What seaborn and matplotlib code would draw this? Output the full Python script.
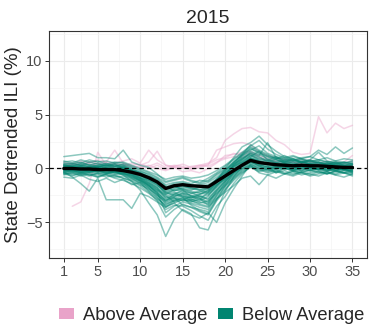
import numpy as np
import pandas as pd
import seaborn as sns
import matplotlib.pyplot as plt
from matplotlib.patches import Patch

nan = np.nan
weeks = list(range(1, 36))
year = '2015'

# states above the average (pink)
above = {
    'A1': [nan, -3.5, -3.1, -1.4, 1.5, 0.3, 0.4, 0.2, 0.5, 0.3, 0.6, 1.6, 0.3, 0.1, -0.3, -0.2, -0.4, 0.0, 0.5, 1.2, 1.3, 1.5, 1.6, 1.1, 0.8, 0.6, 0.5, 0.6, 0.4, 0.5, 0.4, 0.3, 0.3, 0.2, 0.3],
    'A2': [0.4, 0.3, 0.5, 0.4, 0.2, 0.5, 0.3, 0.4, 0.2, 0.1, 0.3, 0.0, -0.2, 0.1, 0.0, 0.2, 0.3, 0.5, 1.0, 2.6, 3.2, 3.7, 3.8, 3.4, 3.3, 2.6, 2.2, 1.5, 1.3, 1.4, 4.8, 3.3, 4.2, 3.7, 4.0],
    'A3': [0.3, 0.5, 0.2, 0.6, 0.4, 0.6, 1.7, 0.5, 0.3, 0.4, 0.2, 0.5, 0.1, 0.3, 0.2, -0.1, 0.1, 0.3, 1.7, 2.0, 2.3, 2.4, 2.2, 1.5, 1.2, 1.0, 0.8, 0.7, 0.9, 0.6, 0.5, 0.7, 0.4, 0.6, 1.2],
    'A4': [0.6, 0.4, 0.7, 0.5, 0.8, 0.6, 0.5, 0.7, 0.9, 0.5, 1.7, 0.8, 0.3, 0.2, 0.4, 0.1, 0.3, 0.2, 0.6, 0.9, 1.1, 1.0, 1.3, 0.9, 0.8, 0.6, 0.7, 0.5, 0.6, 0.8, 0.5, 0.4, 0.6, 0.5, 0.7],
    'A5': [0.2, 0.4, 0.3, 0.2, 0.5, 0.3, 0.2, 0.4, 0.1, 0.2, 0.0, 0.3, -0.1, 0.2, 0.1, 0.0, 0.2, 0.4, 0.8, 1.0, 1.4, 1.2, 1.5, 1.2, 1.0, 0.7, 0.9, 0.6, 0.5, 0.7, 0.4, 0.5, 0.3, 0.4, 0.5],
}

# states below the average (teal)
below = {
    'B01': [0.3, 0.2, 0.1, 0.0, -0.2, -0.4, -0.3, -0.6, -1.2, -2.0, -3.2, -4.3, -6.3, -4.7, -3.8, -4.2, -5.5, -5.7, -3.9, -2.1, -0.8, 0.2, 0.6, 0.4, 0.1, 0.3, 0.2, -0.1, 0.2, 0.0, 0.1, -0.2, 0.0, -0.1, 0.1],
    'B02': [-0.3, -0.8, -1.4, -2.1, -0.9, -2.9, -2.9, -2.9, -3.7, -2.3, -2.6, -3.1, -3.6, -3.0, -2.7, -3.4, -3.9, -4.2, -2.9, -1.6, -0.4, 0.3, 0.9, 0.5, 0.3, 0.1, 0.4, 0.2, 0.0, 0.3, 0.2, 0.1, -0.2, 0.0, -0.3],
    'B03': [1.1, 1.2, 1.3, 1.4, 1.0, 1.0, 0.9, 1.7, 0.6, 0.3, 0.1, -0.5, -1.2, -1.0, -0.8, -1.1, -1.3, -0.9, -0.4, 0.2, 0.8, 1.4, 2.0, 1.6, 1.2, 1.0, 0.8, 1.1, 0.9, 0.7, 0.8, 0.6, 0.5, 0.6, 0.4],
    'B04': [0.5, 0.4, 0.6, 0.3, 0.5, 0.2, 0.4, 0.1, -0.2, -0.6, -0.9, -1.3, -2.1, -1.8, -1.6, -1.9, -2.0, -1.7, -1.0, -0.3, 0.5, 1.2, 1.9, 1.4, 1.1, 0.9, 1.2, 0.8, 1.0, 1.1, 1.7, 1.3, 2.0, 1.4, 1.9],
    'B05': [0.2, 0.1, 0.0, 0.2, 0.1, -0.1, 0.0, -0.2, -0.4, -0.8, -1.3, -1.8, -2.6, -2.3, -2.2, -2.5, -2.4, -2.0, -1.2, 0.0, 1.0, 2.0, 2.4, 3.0, 2.2, 1.6, 1.1, 0.9, 0.6, 0.8, 0.5, 0.4, 0.6, 0.3, 0.4],
    'B06': [-0.4, -0.5, -0.3, -0.6, -0.5, -0.8, -0.6, -0.9, -1.1, -1.5, -1.9, -2.4, -3.3, -3.0, -2.8, -3.2, -3.4, -3.6, -2.8, -2.2, -1.6, -0.9, -0.7, -1.5, -0.6, -0.9, -0.5, -0.7, -0.4, -0.6, -0.3, -0.5, -0.2, -0.4, -0.6],
    'B07': [-0.2, -0.1, -0.3, -0.2, -0.4, -0.3, -0.5, -0.4, -0.7, -1.0, -1.6, -2.2, -4.1, -3.5, -3.1, -3.3, -3.6, -3.8, -2.5, -1.3, -0.3, 0.4, 1.0, 0.7, 0.5, 0.6, 0.3, 0.4, 0.2, 0.5, 0.3, 0.2, 0.1, 0.3, 0.0],
    'B08': [0.1, 0.3, 0.2, 0.4, 0.2, 0.3, 0.1, 0.2, -0.1, -0.3, -0.5, -0.9, -1.5, -1.3, -1.2, -1.4, -1.1, -1.2, -0.6, -0.1, 0.4, 0.9, 1.3, 0.8, 0.7, 0.9, 0.5, 0.7, 0.6, 0.4, 0.6, 0.3, 0.4, 0.5, 0.2],
    'B09': [-0.6, -0.4, -0.7, -0.5, -0.8, -0.6, -0.9, -1.1, -1.4, -1.8, -2.3, -2.9, -3.8, -3.4, -3.5, -3.9, -4.4, -4.8, -3.5, -2.6, -1.4, -0.5, 0.2, -0.2, 0.0, -0.3, 0.1, -0.2, -0.4, -0.1, -0.3, -0.5, -0.2, -0.4, -0.3],
    'B10': [0.0, -0.2, 0.1, -0.1, -0.3, -0.2, -0.4, -0.5, -0.9, -1.4, -2.0, -2.7, -3.5, -3.2, -3.9, -4.3, -4.6, -4.1, -5.0, -3.2, -1.9, -0.7, 0.4, 0.1, -0.1, 0.2, 0.0, -0.2, 0.1, -0.1, 0.0, -0.2, 0.1, -0.1, -0.2],
    'B11': [0.6, 0.7, 0.5, 0.8, 0.6, 0.7, 0.5, 0.6, 0.3, 0.0, -0.3, -0.6, -1.0, -0.8, -0.7, -0.9, -0.8, -0.6, -0.2, 0.3, 0.9, 1.5, 2.1, 2.6, 1.8, 1.3, 1.0, 1.2, 0.9, 1.1, 0.8, 1.0, 0.7, 0.9, 0.8],
    'B12': [-0.1, 0.0, -0.2, -0.1, 0.0, -0.2, -0.1, -0.3, -0.5, -0.9, -1.1, -1.6, -2.0, -1.7, -1.9, -2.1, -2.3, -2.4, -1.7, -0.8, 0.0, 0.7, 1.1, 1.6, 0.8, 0.5, 0.7, 0.4, 0.6, 0.3, 0.5, 0.2, 0.4, 0.1, 0.3],
    'B13': [-0.8, -0.9, -0.6, -1.0, -1.2, -0.9, -1.3, -1.0, -1.5, -1.3, -1.8, -2.5, -3.0, -2.4, -2.0, -2.6, -2.9, -2.2, -1.5, -1.0, -0.4, 0.0, 0.3, 0.0, -0.3, -0.1, -0.4, -0.6, -0.3, -0.5, -0.7, -0.4, -0.6, -0.8, -0.5],
    'B14': [0.3, 0.2, 0.4, 0.2, 0.3, 0.5, 0.2, 0.4, 0.1, -0.2, -0.6, -1.1, -1.7, -1.4, -1.3, -1.5, -1.6, -1.5, -1.0, -0.4, 0.2, 0.8, 1.5, 1.2, 2.4, 1.0, 0.7, 0.9, 0.6, 0.8, 1.5, 0.7, 0.5, 0.6, 0.4],
    'B15': [-0.3, -0.2, -0.4, -0.3, -0.1, -0.4, -0.2, -0.5, -0.6, -1.1, -1.5, -2.0, -2.7, -2.6, -2.4, -2.8, -3.1, -3.3, -2.2, -1.4, -0.6, 0.1, 0.6, 0.3, -0.2, 0.0, 0.2, -0.1, 0.1, -0.2, 0.0, 0.1, -0.1, 0.0, -0.2],
    'B16': [0.2, 0.4, 0.3, 0.1, 0.3, 0.2, 0.4, 0.0, -0.3, -0.7, -1.0, -1.5, -2.2, -1.9, -1.7, -1.8, -2.0, -2.2, -1.3, -0.6, 0.3, 1.1, 1.6, 1.3, 0.9, 0.6, 0.8, 0.5, 0.7, 0.4, 0.2, 0.5, 0.3, 0.2, 0.4],
    'B17': [-0.5, -0.3, -0.6, -0.4, -0.7, -0.5, -0.3, -0.6, -0.9, -1.2, -1.7, -2.3, -2.9, -2.7, -3.0, -2.9, -2.6, -2.8, -2.0, -1.2, -0.5, 0.3, 0.8, 0.4, 0.2, -0.4, 0.0, 0.2, -0.2, 0.1, -0.1, -0.3, 0.0, -0.2, -0.1],
    'B18': [0.4, 0.5, 0.3, 0.6, 0.4, 0.3, 0.5, 0.3, 0.0, -0.4, -0.8, -1.2, -1.9, -1.6, -1.4, -1.6, -1.5, -1.3, -0.8, -0.2, 0.5, 1.3, 1.8, 1.5, 1.1, 0.8, 0.6, 0.9, 0.5, 0.7, 0.4, 0.6, 0.3, 0.5, 0.6],
    'B19': [-0.2, -0.4, -0.1, -0.3, -0.2, -0.5, -0.3, -0.2, -0.6, -0.9, -1.4, -1.9, -2.4, -2.2, -2.6, -2.7, -2.5, -2.9, -1.8, -1.0, -0.2, 0.5, 0.9, 0.6, 0.4, 0.3, 0.5, 0.1, 0.3, 0.0, 0.2, -0.1, 0.1, 0.2, 0.0],
    'B20': [0.1, -0.1, 0.2, 0.0, 0.1, 0.0, -0.2, 0.1, -0.2, -0.5, -0.9, -1.3, -1.8, -1.5, -1.6, -1.8, -1.9, -2.0, -1.4, -0.5, 0.2, 0.6, 1.2, 0.9, 0.7, 0.5, 0.4, 0.6, 0.2, 0.4, 0.3, 0.1, 0.2, 0.0, 0.1],
    'B21': [-0.4, -0.6, -0.5, -0.7, -0.4, -0.6, -0.8, -0.7, -1.0, -1.3, -2.1, -2.8, -3.4, -2.9, -2.7, -3.0, -3.2, -3.0, -2.3, -1.6, -0.9, -0.3, 0.2, -0.1, -0.4, -0.2, -0.5, -0.3, -0.6, -0.4, -0.2, -0.5, -0.3, -0.4, -0.7],
    'B22': [0.0, 0.1, -0.1, 0.2, 0.0, 0.1, -0.1, 0.0, -0.4, -0.6, -1.2, -1.7, -2.3, -2.0, -2.1, -2.3, -2.1, -2.3, -1.5, -0.7, 0.4, 1.0, 1.4, 1.1, 0.6, 0.8, 0.5, 0.3, 0.6, 0.4, 0.2, 0.4, 0.3, 0.1, 0.2],
    'B23': [0.7, 0.5, 0.8, 0.6, 0.7, 0.4, 0.6, 0.5, 0.2, -0.1, -0.4, -0.8, -1.3, -1.1, -0.9, -1.2, -1.4, -1.1, -0.5, 0.0, 0.6, 1.2, 1.7, 2.1, 1.4, 1.1, 0.9, 0.7, 0.9, 0.6, 0.8, 0.6, 0.7, 0.5, 0.7],
    'B24': [-0.1, -0.3, -0.2, -0.4, -0.2, -0.1, -0.3, -0.4, -0.8, -1.1, -1.6, -2.1, -3.0, -2.6, -2.3, -2.5, -2.7, -3.1, -2.0, -1.1, -0.3, 0.3, 0.7, 0.2, 0.5, 0.1, 0.3, 0.0, 0.2, 0.1, -0.1, 0.1, -0.2, 0.0, -0.4],
    'B25': [0.1, 0.2, 0.0, 0.1, -0.1, 0.0, 0.2, -0.1, -0.5, -0.9, -1.5, -2.4, -3.2, -2.8, -2.5, -2.9, -3.0, -2.6, -1.6, -0.8, 0.1, 0.6, 1.0, 0.6, 0.4, 0.2, 0.4, 0.1, 0.3, 0.2, 0.0, 0.2, 0.1, -0.1, 0.1],
    'B26': [-0.3, -0.1, -0.4, -0.2, -0.3, -0.1, -0.4, -0.3, -0.6, -1.0, -1.4, -2.0, -2.5, -3.1, -2.9, -2.6, -2.8, -3.4, -2.4, -1.5, -0.7, 0.0, 0.5, 0.2, 0.0, 0.1, -0.1, 0.0, -0.2, 0.1, -0.1, 0.0, -0.3, -0.1, -0.2],
    'B27': [0.4, 0.2, 0.5, 0.3, 0.1, 0.4, 0.2, 0.3, -0.1, -0.4, -0.7, -1.0, -1.6, -2.1, -1.8, -2.0, -1.7, -1.9, -1.1, -0.4, 0.3, 0.9, 1.4, 1.0, 0.8, 1.1, 0.6, 0.8, 0.5, 0.7, 0.6, 0.4, 0.5, 0.3, 0.5],
    'B28': [-0.2, 0.0, -0.3, -0.1, -0.2, 0.0, -0.2, -0.4, -0.7, -1.2, -1.8, -2.6, -3.6, -3.2, -2.9, -3.1, -2.8, -3.2, -2.1, -1.2, -0.4, 0.2, 0.6, 0.3, 0.1, 0.0, 0.2, -0.2, 0.0, 0.1, -0.1, -0.2, 0.0, -0.1, -0.3],
    'B29': [0.2, 0.0, 0.3, 0.1, 0.2, 0.1, 0.3, 0.0, -0.3, -0.5, -1.0, -1.4, -2.4, -2.0, -1.9, -2.2, -2.6, -2.5, -1.6, -0.9, -0.1, 0.5, 0.9, 0.7, 0.4, 0.5, 0.2, 0.4, 0.3, 0.1, 0.3, 0.2, 0.0, 0.2, 0.1],
    'B30': [-0.5, -0.7, -0.4, -0.6, -0.8, -0.5, -0.7, -0.9, -1.2, -1.6, -2.2, -3.0, -4.5, -3.8, -3.3, -3.6, -4.0, -4.3, -3.0, -2.0, -1.1, -0.4, 0.1, -0.3, -0.1, -0.4, -0.2, -0.5, -0.3, -0.2, -0.4, -0.3, -0.5, -0.2, -0.4],
    'B31': [0.0, 0.2, 0.1, -0.1, 0.1, 0.3, 0.0, 0.1, -0.2, -0.4, -0.8, -1.2, -1.9, -1.6, -2.0, -2.3, -2.2, -1.8, -1.0, -0.2, 0.6, 1.3, 2.2, 1.7, 1.3, 0.9, 1.0, 0.7, 0.8, 0.5, 0.6, 0.4, 0.5, 0.3, 0.2],
    'B32': [-0.1, -0.2, 0.0, -0.3, -0.1, -0.3, -0.2, -0.1, -0.4, -0.8, -1.3, -1.8, -2.8, -2.4, -2.6, -3.0, -3.3, -3.5, -2.6, -1.7, -0.8, -0.1, 0.4, 0.0, 0.2, -0.1, 0.1, -0.3, -0.1, -0.2, 0.0, -0.1, -0.2, -0.4, -0.1],
    'B33': [0.3, 0.1, 0.2, 0.0, 0.2, 0.1, -0.1, 0.2, -0.2, -0.6, -1.1, -1.5, -2.2, -2.5, -2.3, -2.7, -2.4, -2.1, -1.3, -0.6, 0.2, 0.8, 1.2, 0.7, 0.5, 0.3, 0.6, 0.3, 0.4, 0.2, 0.3, 0.1, 0.2, 0.3, 0.0],
    'B34': [-0.4, -0.2, -0.5, -0.3, -0.5, -0.4, -0.6, -0.5, -0.8, -1.1, -1.6, -2.2, -3.1, -2.7, -3.4, -3.6, -3.8, -4.0, -2.8, -1.9, -1.0, -0.2, 0.3, -0.4, -0.6, -0.3, -0.5, -0.2, -0.4, -0.7, -0.5, -0.3, -0.6, -0.4, -0.5],
}

# national average (black line)
mean_ili = [0.0, 0.0, -0.05, -0.05, -0.1, -0.1, -0.1, -0.2, -0.35, -0.55, -0.85, -1.25, -1.85, -1.6, -1.5, -1.6, -1.65, -1.7, -1.2, -0.7, -0.2, 0.3, 0.75, 0.55, 0.45, 0.35, 0.3, 0.25, 0.3, 0.25, 0.25, 0.2, 0.15, 0.1, 0.1]

pink = '#E9A3C9'
teal = '#018571'

rows = []
for grp, d in [('Above Average', above), ('Below Average', below)]:
    for st, vals in d.items():
        for w, v in zip(weeks, vals):
            rows.append((st, grp, w, v))
df = pd.DataFrame(rows, columns=['state', 'group', 'week', 'ili'])
df_mean = pd.DataFrame({'week': weeks, 'ili': mean_ili})

sns.set_style('white')
plt.rcParams['font.family'] = ['Liberation Sans', 'DejaVu Sans']

fig = plt.figure(figsize=(3.74, 3.36), dpi=100)
ax = fig.add_axes([0.132, 0.232, 0.849, 0.676])

sns.lineplot(data=df, x='week', y='ili', hue='group', units='state', estimator=None,
             palette={'Above Average': pink, 'Below Average': teal},
             alpha=0.45, lw=1.1, legend=False, ax=ax)
ax.axhline(0, color='black', ls=(0, (3.5, 2.5)), lw=0.9, zorder=4)
sns.lineplot(data=df_mean, x='week', y='ili', color='black', lw=2.4, ax=ax, zorder=5)

ax.set_xlim(-0.7, 36.7)
ax.set_ylim(-8.3, 12.75)
ax.set_xticks([1, 5, 10, 15, 20, 25, 30, 35])
ax.set_xticks([3, 7.5, 12.5, 17.5, 22.5, 27.5, 32.5], minor=True)
ax.set_yticks([-5, 0, 5, 10])
ax.set_yticks([-7.5, -2.5, 2.5, 7.5, 12.5], minor=True)
ax.grid(which='major', color='#EBEBEB', lw=0.8)
ax.grid(which='minor', color='#F4F4F4', lw=0.5)
ax.set_axisbelow(True)
ax.tick_params(which='major', length=3, width=0.7, color='#333333', labelsize=10.5,
               labelcolor='#4D4D4D', pad=2, bottom=True, left=True)
ax.tick_params(which='minor', length=0)
for s in ax.spines.values():
    s.set_color('#333333')
    s.set_linewidth(0.8)

ax.set_xlabel('')
ax.set_ylabel('State Detrended ILI (%)', fontsize=13.5, labelpad=3)
ax.set_title(year, fontsize=14, pad=6)

handles = [Patch(facecolor=pink, edgecolor='none'), Patch(facecolor=teal, edgecolor='none')]
fig.legend(handles, ['Above Average', 'Below Average'], loc='center', ncol=2,
           bbox_to_anchor=(0.566, 0.06), frameon=False, fontsize=13.2,
           handlelength=0.82, handleheight=0.55, handletextpad=0.5, columnspacing=0.55)

fig.savefig('out.png', dpi=100)
